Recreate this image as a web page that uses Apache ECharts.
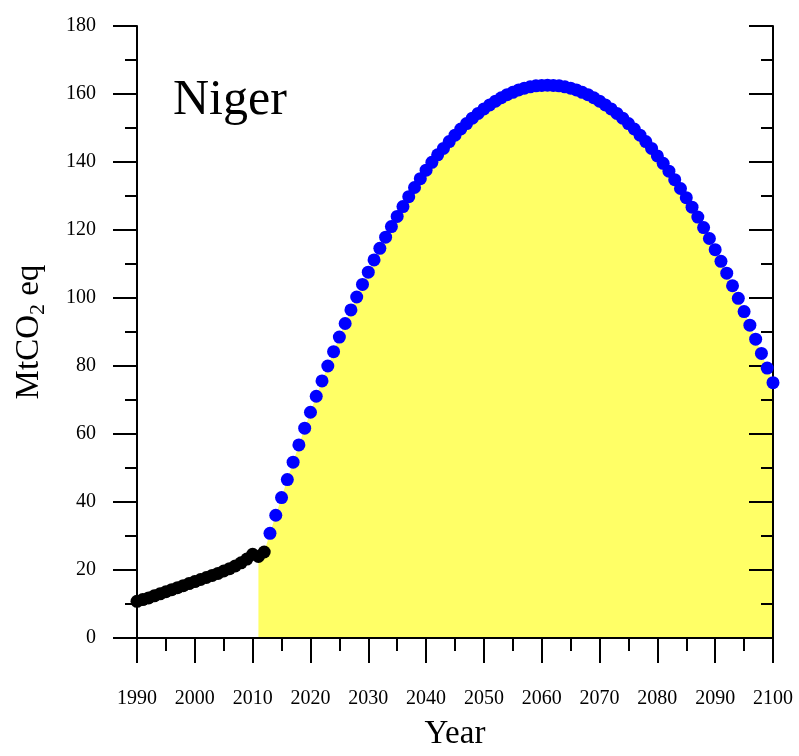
<!DOCTYPE html>
<html>
<head>
<meta charset="utf-8">
<script src="https://cdn.jsdelivr.net/npm/echarts@6/dist/echarts.min.js"></script>
<style>html,body{margin:0;padding:0;background:#fff;overflow:hidden}#c{width:799px;height:756px}</style>
</head>
<body>
<div id="c"></div>
<script>
// Historical emissions (black), 1990-2012
const histYears = [1990,1991,1992,1993,1994,1995,1996,1997,1998,1999,2000,2001,2002,2003,2004,2005,2006,2007,2008,2009,2010,2011,2012];
const histValues = [10.8,11.3,11.8,12.4,13.0,13.6,14.2,14.8,15.4,16.0,16.6,17.2,17.8,18.4,19.0,19.7,20.4,21.2,22.1,23.2,24.6,24.0,25.3];
// Projected emissions (blue), 2013-2100
const projYears = [2013,2014,2015,2016,2017,2018,2019,2020,2021,2022,2023,2024,2025,2026,2027,2028,2029,2030,2031,2032,2033,2034,2035,2036,2037,2038,2039,2040,2041,2042,2043,2044,2045,2046,2047,2048,2049,2050,2051,2052,2053,2054,2055,2056,2057,2058,2059,2060,2061,2062,2063,2064,2065,2066,2067,2068,2069,2070,2071,2072,2073,2074,2075,2076,2077,2078,2079,2080,2081,2082,2083,2084,2085,2086,2087,2088,2089,2090,2091,2092,2093,2094,2095,2096,2097,2098,2099,2100];
const projValues = [30.8,36.1,41.3,46.6,51.7,56.8,61.7,66.4,71.1,75.6,80.0,84.2,88.5,92.5,96.5,100.3,104.0,107.6,111.2,114.6,117.9,121.0,124.0,126.9,129.8,132.5,135.1,137.6,139.9,142.1,144.0,146.0,147.9,149.7,151.3,152.9,154.3,155.6,156.8,157.9,158.9,159.8,160.5,161.2,161.7,162.1,162.4,162.5,162.6,162.5,162.4,162.1,161.7,161.2,160.5,159.8,158.9,157.9,156.8,155.6,154.3,152.9,151.3,149.7,147.9,146.0,144.0,141.8,139.6,137.3,134.8,132.2,129.5,126.7,123.8,120.7,117.5,114.2,110.8,107.3,103.6,99.9,96.0,92.0,87.9,83.7,79.4,75.1];
// Shaded area start (from 2011)
const areaStartYears = [2011,2012];
const areaStartValues = [24.0,25.3];
const countryName = 'Niger';
const xTitle = 'Year';

const FONT = '"Liberation Serif", "Times New Roman", serif';
const pair = (xs, ys) => xs.map((x, i) => [x, ys[i]]);
const areaData = pair(areaStartYears, areaStartValues).concat(pair(projYears, projValues));

const lineStyle = { color: '#000', width: 2 };
const chart = echarts.init(document.getElementById('c'), null, { renderer: 'canvas' });
chart.setOption({
  animation: false,
  backgroundColor: '#fff',
  grid: { left: 137, right: 26, top: 26, bottom: 106, containLabel: false },
  xAxis: [
    {
      type: 'value', position: 'bottom', min: 1990, max: 2100, interval: 10, z: 2,
      name: xTitle, nameLocation: 'middle', nameGap: 80,
      nameTextStyle: { fontFamily: FONT, fontSize: 33, color: '#000' },
      axisLine: { show: true, lineStyle: lineStyle },
      axisTick: { show: true, inside: false, length: 25, lineStyle: lineStyle },
      minorTick: { show: true, splitNumber: 2, length: 13, lineStyle: lineStyle },
      axisLabel: { margin: 51, fontFamily: FONT, fontSize: 20, color: '#000', formatter: v => String(v) },
      splitLine: { show: false }
    },
    {
      type: 'value', position: 'top', min: 1990, max: 2100, interval: 10, z: 2,
      axisLine: { show: true, lineStyle: lineStyle },
      axisTick: { show: true, inside: true, length: 25, lineStyle: lineStyle },
      minorTick: { show: true, splitNumber: 2, length: 13, lineStyle: lineStyle },
      axisLabel: { show: false },
      splitLine: { show: false }
    }
  ],
  yAxis: [
    {
      type: 'value', position: 'left', min: 0, max: 180, interval: 20, z: 2,
      name: '{a|MtCO}{s|2}{a| eq}', nameLocation: 'middle', nameGap: 88, nameRotate: 90,
      nameTextStyle: {
        rich: {
          a: { fontFamily: FONT, fontSize: 33, color: '#000', lineHeight: 40, verticalAlign: 'middle' },
          s: { fontFamily: FONT, fontSize: 22, color: '#000', lineHeight: 40, verticalAlign: 'bottom' }
        }
      },
      axisLine: { show: true, lineStyle: lineStyle },
      axisTick: { show: true, inside: false, length: 24, lineStyle: lineStyle },
      minorTick: { show: true, splitNumber: 2, length: 12, lineStyle: lineStyle },
      axisLabel: { margin: 41, fontFamily: FONT, fontSize: 20, color: '#000' },
      splitLine: { show: false }
    },
    {
      type: 'value', position: 'right', min: 0, max: 180, interval: 20, z: 2,
      axisLine: { show: true, lineStyle: lineStyle },
      axisTick: { show: true, inside: true, length: 24, lineStyle: lineStyle },
      minorTick: { show: true, splitNumber: 2, length: 12, lineStyle: lineStyle },
      axisLabel: { show: false },
      splitLine: { show: false }
    }
  ],
  graphic: [
    {
      type: 'text', left: 173, top: 76, z: 10,
      style: { text: countryName, font: '50px ' + FONT, fill: '#000' }
    }
  ],
  series: [
    {
      type: 'line', xAxisIndex: 0, yAxisIndex: 0, z: 1,
      data: areaData, showSymbol: false, symbol: 'none',
      lineStyle: { width: 0, opacity: 0 },
      areaStyle: { color: '#FFFF66', opacity: 1 },
      silent: true
    },
    {
      type: 'scatter', xAxisIndex: 0, yAxisIndex: 0, z: 3, clip: false,
      data: pair(histYears, histValues), symbol: 'circle', symbolSize: 13,
      itemStyle: { color: '#000', opacity: 1 }
    },
    {
      type: 'scatter', xAxisIndex: 0, yAxisIndex: 0, z: 3, clip: false,
      data: pair(projYears, projValues), symbol: 'circle', symbolSize: 13,
      itemStyle: { color: '#0000FF', opacity: 1 }
    }
  ]
});
</script>
</body>
</html>
